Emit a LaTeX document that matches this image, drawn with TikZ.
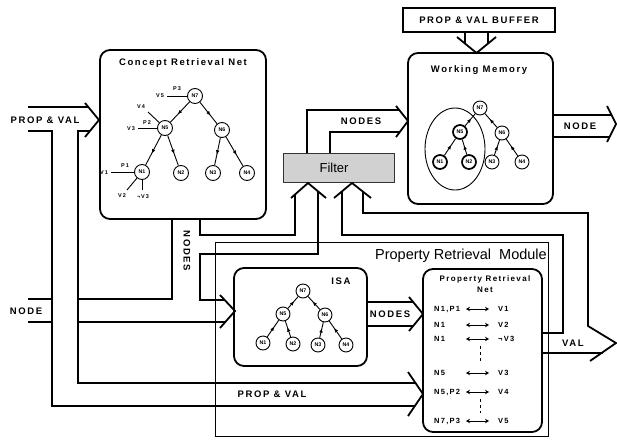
\documentclass[tikz,border=0pt]{standalone}
\usepackage{fontspec}
\setmainfont{Liberation Sans}
\newfontfamily\spaced{Liberation Sans}[LetterSpace=17]
\usetikzlibrary{arrows.meta,decorations.markings}
\tikzset{
  band/.style={line width=1.8pt},
  box/.style={draw, rectangle, rounded corners=10pt, line width=1.8pt, inner sep=0pt},
  lbl/.style={font=\spaced\bfseries\fontsize{9.5}{11}\selectfont, inner sep=0pt},
  sml/.style={font=\spaced\bfseries\fontsize{5.5}{6}\selectfont, inner sep=0pt},
  rowt/.style={font=\spaced\bfseries\fontsize{7.5}{8}\selectfont, inner sep=0pt, anchor=west},
  tn/.style={circle, draw, line width=0.9pt, minimum size=14pt, inner sep=0pt, font=\bfseries\fontsize{5.3}{6}\selectfont},
  tnb/.style={tn, line width=1.7pt},
  thinl/.style={line width=0.9pt},
  te/.style={line width=0.9pt, postaction={decorate}, decoration={markings, mark=at position 0.62 with {\arrow{Latex[length=4.5pt,width=3.6pt]}}}},
  dbl/.style={line width=0.9pt, {Stealth[length=4pt,width=4.5pt]}-{Stealth[length=4pt,width=4.5pt]}}
}
\begin{document}
\begin{tikzpicture}[x=1pt,y=-1pt]
\useasboundingbox (0,0) rectangle (617,439);

% ---------- boxes ----------
\node[box, minimum width=166pt, minimum height=169pt] (crn) at (183,134.5) {};
\node[box, minimum width=145pt, minimum height=151pt] (wm) at (480.5,128.5) {};
\node[draw, rectangle, line width=1.3pt, minimum width=152pt, minimum height=24pt, inner sep=0pt] (buf) at (479,20) {};
\node[draw=black!80, fill=black!18, rectangle, line width=0.8pt, minimum width=111pt, minimum height=29pt, inner sep=0pt] (filt) at (338.5,167.5) {};
\node[draw, rectangle, line width=0.8pt, minimum width=333pt, minimum height=194pt, inner sep=0pt] (prm) at (381.5,339) {};
\node[box, minimum width=133pt, minimum height=98pt] (isa) at (300.5,317) {};
\node[box, minimum width=119pt, minimum height=163pt] (prn) at (482.5,350.5) {};

% ---------- titles ----------
\node[lbl] (crnt) at (183,63) {Concept Retrieval Net};
\node[lbl] (wmt) at (479,70) {Working Memory};
\node[lbl] (buft) at (479,20) {PROP \& VAL BUFFER};
\node[font=\fontsize{13}{14}\selectfont, inner sep=0pt] (filtt) at (334,168) {Filter};
\node[font=\fontsize{14.5}{16}\selectfont, inner sep=0pt, anchor=east] (prmt) at (547,256) {Property Retrieval\ \ Module};
\node[lbl] (isat) at (341,281) {ISA};
\node[font=\spaced\bfseries\fontsize{8}{9}\selectfont, inner sep=0pt] (prnt1) at (485,279) {Property Retrieval};
\node[font=\spaced\bfseries\fontsize{8}{9}\selectfont, inner sep=0pt] (prnt2) at (485,290) {Net};

% ---------- band labels ----------
\node[lbl] (pvl) at (45,120) {PROP \& VAL};
\node[lbl] (nodel) at (26,311) {NODE};
\node[lbl, rotate=-90] (nodesv) at (187,251) {NODES};
\node[lbl] (nodeswm) at (361,121) {NODES};
\node[lbl] (nodeout) at (580,126) {NODE};
\node[lbl] (nodesisa) at (390,314) {NODES};
\node[lbl] (vall) at (573,343) {VAL};
\node[lbl] (pvb) at (272,394) {PROP \& VAL};

% ---------- bands ----------
% PROP & VAL from the left
\draw[band] (28,107) -- (88,107);
\draw[band] (85,103) -- (99,120) -- (85,137);
\draw[band] (28,131) -- (52,131) -- (52,406) -- (415,406);
\draw[band] (90,131) -- (78,131) -- (78,383) -- (415,383);
\draw[band] (408,372) -- (423,394) -- (408,416);
% NODE from the left, NODES from concept net
\draw[band] (28,299) -- (52,299);
\draw[band] (28,322) -- (52,322);
\draw[band] (78,299) -- (172,299) -- (172,219);
\draw[band] (78,322) -- (225,322);
\draw[band] (220,295) -- (235,311) -- (220,328);
\draw[band] (225,300) -- (200,300) -- (200,254) -- (318,254) -- (318,191);
\draw[band] (200,219) -- (200,235) -- (295,235) -- (295,194.5);
\draw[band] (291,198) -- (308,183) -- (326,198);
% feedback VAL to filter
\draw[band] (334,198) -- (352,183) -- (371,198);
\draw[band] (342,191) -- (342,235) -- (563,235) -- (563,333) -- (542,333);
\draw[band] (363,192) -- (363,213) -- (588,213) -- (588,326) -- (616,343) -- (590,361);
\draw[band] (542,353) -- (603,353);
% filter to working memory
\draw[band] (307,153) -- (307,110) -- (399,110);
\draw[band] (330,153) -- (330,132) -- (400,132);
\draw[band] (396,106) -- (408,121) -- (396,137);
% working memory output
\draw[band] (553,115) -- (611.5,115);
\draw[band] (553,137) -- (609.5,137);
\draw[band] (607,106) -- (616,124) -- (607,142);
% buffer into working memory
\draw[band] (465,32) -- (465,43.6);
\draw[band] (488,32) -- (488,43.6);
\draw[band] (457,37) -- (476.5,53) -- (496,37);
% ISA to property retrieval net
\draw[band] (367,302) -- (413,302);
\draw[band] (367,326) -- (413,326);
\draw[band] (409,297) -- (423,314) -- (409,331);

% ---------- concept retrieval net tree ----------
\node[tn, minimum size=15pt] (c7) at (195,96) {N7};
\node[tn, minimum size=15pt] (c5) at (165,128) {N5};
\node[tn, minimum size=15pt] (c6) at (222,130) {N6};
\node[tn, minimum size=15pt] (c1) at (142,172) {N1};
\node[tn, minimum size=15pt] (c2) at (181,173) {N2};
\node[tn, minimum size=15pt] (c3) at (213,173) {N3};
\node[tn, minimum size=15pt] (c4) at (247,173) {N4};
\draw[te] (c7) -- (c5);
\draw[te] (c7) -- (c6);
\draw[te] (c5) -- (c1);
\draw[te] (c5) -- (c2);
\draw[te] (c6) -- (c3);
\draw[te] (c6) -- (c4);
\coordinate (v5e) at (167,96);
\coordinate (v4e) at (148,112);
\coordinate (v3e) at (138,128);
\coordinate (v1e) at (111,172);
\coordinate (v2e) at (127,190);
\coordinate (nv3e) at (142,190);
\draw[thinl] (v5e) -- (c7);
\draw[thinl] (v4e) -- (c5);
\draw[thinl] (v3e) -- (c5);
\draw[thinl] (v1e) -- (c1);
\draw[thinl] (v2e) -- (c1);
\draw[thinl] (nv3e) -- (c1);
\node[sml] (lv5) at (160,96) {V5};
\node[sml] (lp3) at (177,89) {P3};
\node[sml] (lv4) at (141,107) {V4};
\node[sml] (lv3) at (131,129) {V3};
\node[sml] (lp2) at (147,123) {P2};
\node[sml] (lv1) at (104,173) {V1};
\node[sml] (lp1) at (125,166) {P1};
\node[sml] (lv2) at (122,196) {V2};
\node[sml] (lnv3) at (143,197) {¬V3};

% ---------- working memory tree ----------
\draw[thinl] (455,149) ellipse [x radius=30pt, y radius=41pt];
\node[tn] (w7) at (480,108) {N7};
\node[tnb] (w5) at (460,132) {N5};
\node[tn] (w6) at (502,133) {N6};
\node[tnb] (w1) at (440,162) {N1};
\node[tnb] (w2) at (469,162) {N2};
\node[tn] (w3) at (492,162) {N3};
\node[tn] (w4) at (522,162) {N4};
\draw[te] (w5) -- (w7);
\draw[te] (w6) -- (w7);
\draw[te] (w1) -- (w5);
\draw[te] (w2) -- (w5);
\draw[te] (w3) -- (w6);
\draw[te] (w4) -- (w6);

% ---------- ISA tree ----------
\node[tn] (i7) at (303,291) {N7};
\node[tn] (i5) at (283,314) {N5};
\node[tn] (i6) at (325,315) {N6};
\node[tn] (i1) at (263,343) {N1};
\node[tn] (i2) at (293,344) {N2};
\node[tn] (i3) at (318,345) {N3};
\node[tn] (i4) at (346,345) {N4};
\draw[te] (i5) -- (i7);
\draw[te] (i6) -- (i7);
\draw[te] (i1) -- (i5);
\draw[te] (i2) -- (i5);
\draw[te] (i3) -- (i6);
\draw[te] (i4) -- (i6);

% ---------- property retrieval net rows ----------
\node[rowt] (r1a) at (434,309) {N1,P1};
\node[rowt] (r1b) at (498,309) {V1};
\node[rowt] (r2a) at (434,325) {N1};
\node[rowt] (r2b) at (498,325) {V2};
\node[rowt] (r3a) at (434,339) {N1};
\node[rowt] (r3b) at (498,339) {¬V3};
\node[rowt] (r4a) at (434,373) {N5};
\node[rowt] (r4b) at (498,373) {V3};
\node[rowt] (r5a) at (434,392) {N5,P2};
\node[rowt] (r5b) at (498,392) {V4};
\node[rowt] (r6a) at (434,421) {N7,P3};
\node[rowt] (r6b) at (498,421) {V5};
\foreach \y in {309,325,339,373,392,421} {
  \draw[dbl] (466,\y) -- (489,\y);
}
\draw[line width=0.9pt, dash pattern=on 3pt off 3pt] (480,346) -- (480,362);
\draw[line width=0.9pt, dash pattern=on 3pt off 3pt] (480,399) -- (480,413);
\end{tikzpicture}
\end{document}
